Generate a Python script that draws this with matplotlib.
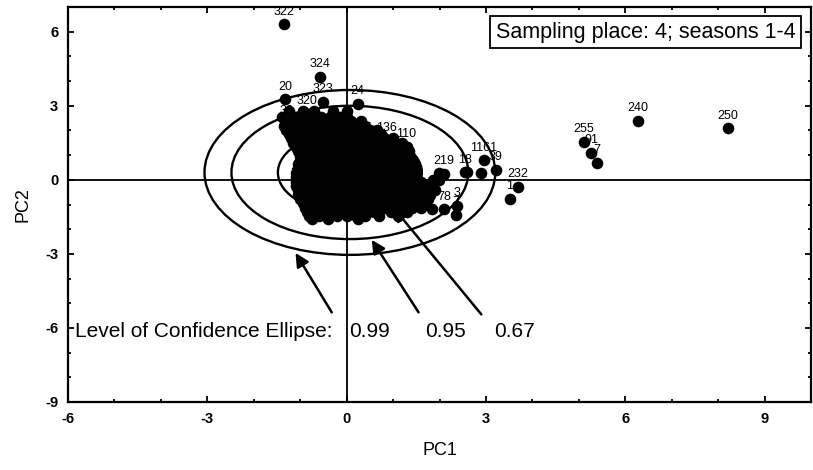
import numpy as np
import matplotlib
matplotlib.use("Agg")
import matplotlib.pyplot as plt
from matplotlib.patches import Ellipse

plt.rcParams['font.family'] = ['Liberation Sans', 'DejaVu Sans']
plt.rcParams['axes.unicode_minus'] = False

# dense core of the score cloud, read row by row (PC2 value, PC1 values)
core_rows = [
    (2.8,  [-1.25, -0.95, -0.7, -0.3, 0.0]),
    (2.55, [-1.4, -1.3, -1.1, -0.95, -0.75, -0.55, -0.35, -0.15, 0.0]),
    (2.38, [-1.3, -1.1, -0.9, -0.7, -0.5, -0.3, -0.1, 0.1, 0.3]),
    (2.2,  [-1.35, -1.2, -1.0, -0.8, -0.6, -0.4, -0.2, 0.0, 0.2, 0.4]),
    (2.03, [-1.3, -1.1, -0.9, -0.7, -0.5, -0.3, -0.1, 0.1, 0.3, 0.5, 0.65]),
    (1.85, [-1.25, -1.05, -0.85, -0.65, -0.45, -0.25, -0.05, 0.15, 0.35, 0.55, 0.75]),
    (1.68, [-1.2, -1.0, -0.8, -0.6, -0.4, -0.2, 0.0, 0.2, 0.4, 0.6, 0.8, 1.0]),
    (1.5,  [-1.15, -0.95, -0.75, -0.55, -0.35, -0.15, 0.05, 0.25, 0.45, 0.65, 0.85, 1.05, 1.2]),
    (1.33, [-1.1, -0.9, -0.7, -0.5, -0.3, -0.1, 0.1, 0.3, 0.5, 0.7, 0.9, 1.1, 1.3]),
    (1.15, [-1.05, -0.85, -0.65, -0.45, -0.25, -0.05, 0.15, 0.35, 0.55, 0.75, 0.95, 1.15, 1.35]),
    (0.98, [-1.0, -0.9, -0.7, -0.5, -0.3, -0.1, 0.1, 0.3, 0.5, 0.7, 0.9, 1.1, 1.3]),
    (0.8,  [-1.0, -0.8, -0.6, -0.4, -0.2, 0.0, 0.2, 0.4, 0.6, 0.8, 1.0, 1.2, 1.4]),
    (0.63, [-1.05, -0.9, -0.7, -0.5, -0.3, -0.1, 0.1, 0.3, 0.5, 0.7, 0.9, 1.1, 1.3, 1.45]),
    (0.45, [-1.05, -0.85, -0.65, -0.45, -0.25, -0.05, 0.15, 0.35, 0.55, 0.75, 0.95, 1.15, 1.35, 1.5]),
    (0.28, [-1.1, -1.0, -0.8, -0.6, -0.4, -0.2, 0.0, 0.2, 0.4, 0.6, 0.8, 1.0, 1.2, 1.4]),
    (0.1,  [-1.1, -0.9, -0.7, -0.5, -0.3, -0.1, 0.1, 0.3, 0.5, 0.7, 0.9, 1.1, 1.3, 1.5]),
    (-0.08, [-1.1, -1.0, -0.8, -0.6, -0.4, -0.2, 0.0, 0.2, 0.4, 0.6, 0.8, 1.0, 1.2, 1.4, 1.6]),
    (-0.25, [-1.1, -0.9, -0.7, -0.5, -0.3, -0.1, 0.1, 0.3, 0.5, 0.7, 0.9, 1.1, 1.3, 1.5, 1.7]),
    (-0.43, [-1.05, -1.0, -0.8, -0.6, -0.4, -0.2, 0.0, 0.2, 0.4, 0.6, 0.8, 1.0, 1.2, 1.4, 1.6, 1.75]),
    (-0.6, [-1.05, -0.85, -0.65, -0.45, -0.25, -0.05, 0.15, 0.35, 0.55, 0.75, 0.95, 1.15, 1.35, 1.55, 1.8]),
    (-0.78, [-1.0, -0.9, -0.7, -0.5, -0.3, -0.1, 0.1, 0.3, 0.5, 0.7, 0.9, 1.1, 1.3, 1.5, 1.75]),
    (-0.95, [-0.95, -0.75, -0.55, -0.35, -0.15, 0.05, 0.25, 0.45, 0.65, 0.85, 1.05, 1.25, 1.45, 1.7]),
    (-1.13, [-0.9, -0.8, -0.6, -0.4, -0.2, 0.0, 0.2, 0.4, 0.6, 0.8, 1.0, 1.2, 1.4, 1.6]),
    (-1.3, [-0.85, -0.65, -0.45, -0.25, -0.05, 0.15, 0.35, 0.6, 0.95, 1.3]),
    (-1.45, [-0.8, -0.6, -0.4, -0.2, 0.0, 0.2, 0.4, 0.7, 1.1]),
    (-1.6, [-0.75, -0.4, 0.25]),
]
extra_pc1 = [1.98, 1.87, 1.98, 1.9, 1.84, 2.59, 2.89]
extra_pc2 = [0.28, 0.0, 0.0, -0.4, -1.2, 0.32, 0.28]

# labelled samples
sample_ids = ["322", "324", "20", "323", "24", "320", "32", "31", "14", "136", "110",
              "219", "18", "1161", "39", "232", "1", "78", "3", "7",
              "255", "91", "7", "240", "250"]
sample_pc1 = [-1.34, -0.57, -1.32, -0.5, 0.24, -0.86, -1.3, -1.05, 0.4, 0.86, 1.29,
              2.09, 2.55, 2.95, 3.21, 3.69, 3.51, 2.1, 2.38, 2.35,
              5.11, 5.26, 5.39, 6.27, 8.21]
sample_pc2 = [6.30, 4.18, 3.27, 3.16, 3.08, 2.67, 2.3, -0.22, 1.6, 1.6, 1.34,
              0.25, 0.3, 0.8, 0.40, -0.28, -0.77, -1.2, -1.05, -1.42,
              1.55, 1.1, 0.69, 2.39, 2.1]

# confidence ellipses
conf_levels = ["0.99", "0.95", "0.67"]
ell_center = (0.07, 0.3)
ell_half_w = [3.13, 2.55, 1.55]
ell_half_h = [3.34, 2.70, 1.65]

core_pc1 = []
core_pc2 = []
for y, xs in core_rows:
    core_pc1 += xs
    core_pc2 += [y] * len(xs)
core_pc1 += extra_pc1
core_pc2 += extra_pc2

fig = plt.figure(figsize=(8.13, 4.70), dpi=100)
ax = fig.add_axes([0.0836, 0.1447, 0.914, 0.8403])

ax.axhline(0, color='black', lw=1.3, zorder=1)
ax.axvline(0, color='black', lw=1.3, zorder=1)

for hw, hh in zip(ell_half_w, ell_half_h):
    ax.add_patch(Ellipse(ell_center, 2 * hw, 2 * hh, fill=False, ec='black', lw=1.7, zorder=2))

ax.scatter(core_pc1, core_pc2, s=70, color='black', zorder=3, linewidths=0)
ax.scatter(sample_pc1, sample_pc2, s=70, color='black', zorder=3, linewidths=0)
for lab, x, y in zip(sample_ids, sample_pc1, sample_pc2):
    ax.annotate(lab, (x, y), xytext=(0, 9), textcoords='offset points',
                ha='center', va='center', fontsize=9, zorder=4)

# legend box
ax.text(0.979, 0.9365, "Sampling place: 4; seasons 1-4", transform=ax.transAxes,
        ha='right', va='center', fontsize=15.5,
        bbox=dict(boxstyle='square,pad=0.25', fc='white', ec='black', lw=1.3))

# confidence level text and arrows
ax.text(-5.85, -6.15, "Level of Confidence Ellipse:", ha='left', va='center', fontsize=15)
level_x = [0.05, 1.7, 3.17]
tails = [(-0.32, -5.37), (1.55, -5.37), (2.9, -5.45)]
tips = [(-1.1, -2.96), (0.54, -2.43), (1.01, -1.13)]
for lab, lx, tail, tip in zip(conf_levels, level_x, tails, tips):
    ax.text(lx, -6.15, lab, ha='left', va='center', fontsize=15)
    ax.annotate("", xy=tip, xytext=tail,
                arrowprops=dict(arrowstyle='-|>', lw=1.8, color='black', mutation_scale=20,
                                shrinkA=0, shrinkB=0), zorder=5)

ax.set_xlim(-6, 10)
ax.set_ylim(-9, 7)
ax.set_xticks([-6, -3, 0, 3, 6, 9])
ax.set_yticks([-9, -6, -3, 0, 3, 6])
ax.set_xticks(np.arange(-6, 11, 1), minor=True)
ax.set_yticks(np.arange(-9, 8, 1), minor=True)
ax.tick_params(which='both', direction='in', top=True, right=True, width=1.3)
ax.tick_params(which='major', length=4, labelsize=10.5, pad=7)
ax.tick_params(which='minor', length=2.5)
for t in ax.get_xticklabels() + ax.get_yticklabels():
    t.set_fontweight('bold')
for s in ax.spines.values():
    s.set_linewidth(1.6)

ax.set_xlabel("PC1", fontsize=13, labelpad=12)
ax.set_ylabel("PC2", fontsize=13, labelpad=10)

fig.savefig("out.png", dpi=100)
